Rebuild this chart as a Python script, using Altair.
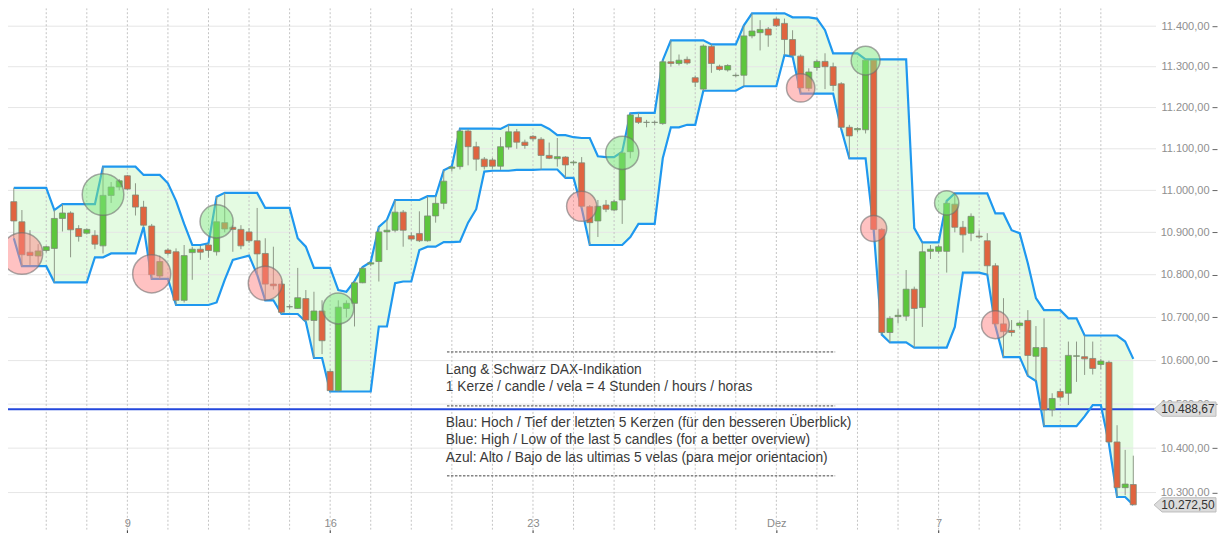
import math
import altair as alt
import pandas as pd

# ---------------- data ----------------
# one candle = 4 hours, 5 candles per trading day; index 0 = first visible candle
opens = [10973, 10925, 10853, 10844, 10857, 10862, 10933, 10946, 10909, 10898,
         10893, 10868, 10988, 11008, 11035, 10989, 10960, 10915, 10797, 10858,
         10854, 10740, 10852, 10860, 10870, 10854, 10923, 10912, 10907, 10901,
         10880, 10850, 10778, 10778, 10725, 10721, 10744, 10693, 10715, 10575,
         10531, 10721, 10733, 10781, 10825, 10831, 10901, 10905, 10948, 10892,
         10897, 10880, 10939, 10969, 11053, 11057, 11143, 11105, 11075, 11073,
         11058, 11104, 11141, 11116, 11130, 11123, 11084, 11076, 11080, 11066,
         11066, 10961, 10927, 10965, 10953, 10977, 11093, 11176, 11164, 11164,
         11161, 11312, 11308, 11318, 11273, 11245, 11350, 11301, 11292, 11278,
         11279, 11376, 11384, 11393, 11418, 11407, 11367, 11326, 11247, 11298,
         11313, 11300, 11258, 11152, 11146, 11146, 11316, 10907, 10665, 10702,
         10703, 10766, 10723, 10855, 10855, 10855, 10967, 10912, 10898, 10891,
         10880, 10821, 10685, 10670, 10681, 10693, 10610, 10630, 10487, 10529,
         10525, 10610, 10609, 10605, 10591, 10596, 10414, 10311, 10318]
highs = [11006, 10953, 10905, 10872, 10868, 10953, 10967, 10950, 10917, 10909,
         10905, 11057, 11020, 11027, 11037, 11017, 10975, 10920, 10845, 10862,
         10862, 10870, 10866, 10868, 10874, 10985, 10994, 10917, 10917, 10910,
         10958, 10886, 10866, 10785, 10730, 10816, 10764, 10760, 10740, 10580,
         10740, 10740, 10785, 10818, 10830, 10913, 10930, 10977, 10953, 10900,
         10950, 10986, 10986, 11048, 11058, 11149, 11148, 11117, 11080, 11078,
         11128, 11158, 11148, 11122, 11133, 11128, 11115, 11126, 11082, 11072,
         11080, 10965, 10977, 10977, 10978, 11093, 11186, 11187, 11170, 11168,
         11316, 11365, 11330, 11325, 11278, 11355, 11355, 11305, 11306, 11283,
         11402, 11432, 11415, 11398, 11422, 11419, 11390, 11330, 11296, 11318,
         11333, 11310, 11262, 11158, 11152, 11318, 11318, 10910, 10703, 10719,
         10811, 10772, 10876, 10870, 10870, 10975, 10993, 10927, 10945, 10905,
         10898, 10827, 10745, 10694, 10690, 10717, 10680, 10698, 10525, 10535,
         10644, 10644, 10658, 10644, 10604, 10600, 10452, 10396, 10383]
lows = [10886, 10820, 10823, 10823, 10852, 10782, 10902, 10841, 10878, 10895,
        10860, 10850, 10970, 11000, 11000, 10940, 10913, 10790, 10790, 10845,
        10729, 10735, 10788, 10835, 10840, 10845, 10900, 10854, 10860, 10875,
        10800, 10740, 10765, 10708, 10720, 10720, 10690, 10606, 10615, 10529,
        10529, 10700, 10679, 10780, 10820, 10784, 10858, 10900, 10866, 10880,
        10877, 10878, 10923, 10955, 11045, 11050, 11060, 11047, 11050, 11052,
        11049, 11098, 11100, 11100, 11118, 11050, 11075, 11057, 11030, 11060,
        10958, 10870, 10889, 10948, 10950, 10920, 11077, 11160, 11152, 11158,
        11158, 11300, 11303, 11305, 11250, 11241, 11285, 11290, 11288, 11275,
        11252, 11370, 11340, 11349, 11398, 11328, 11325, 11234, 11240, 11290,
        11245, 11240, 11148, 11077, 11140, 11137, 10905, 10660, 10642, 10686,
        10692, 10630, 10678, 10837, 10850, 10805, 10900, 10852, 10879, 10885,
        10800, 10680, 10608, 10656, 10675, 10565, 10553, 10450, 10472, 10510,
        10498, 10551, 10567, 10568, 10580, 10410, 10290, 10294, 10272.5]
closes = [10927, 10847, 10845, 10856, 10866, 10933, 10946, 10906, 10890, 10907,
          10872, 10988, 11008, 11023, 11003, 10960, 10917, 10800, 10831, 10850,
          10740, 10845, 10860, 10853, 10857, 10925, 10908, 10907, 10868, 10880,
          10849, 10778, 10774, 10712, 10725, 10746, 10694, 10715, 10646, 10531,
          10724, 10733, 10781, 10815, 10828, 10901, 10905, 10948, 10905, 10884,
          10880, 10939, 10969, 11022, 11056, 11143, 11105, 11075, 11057, 11058,
          11105, 11141, 11116, 11108, 11124, 11084, 11077, 11081, 11061, 11068,
          10962, 10923, 10962, 10955, 10973, 11090, 11182, 11164, 11164, 11164,
          11312, 11308, 11316, 11309, 11262, 11351, 11308, 11293, 11303, 11279,
          11376, 11388, 11392, 11378, 11401, 11367, 11328, 11248, 11287, 11313,
          11300, 11254, 11152, 11131, 11149, 11316, 10907, 10665, 10698, 10705,
          10766, 10721, 10854, 10860, 10866, 10969, 10912, 10894, 10938, 10889,
          10821, 10685, 10667, 10665, 10687, 10612, 10630, 10487, 10513, 10516,
          10612, 10611, 10604, 10582, 10599, 10414, 10311, 10319, 10272.5]

# signal circles (candle index, price, type, radius in px)
signal_idx = [1, 11, 17, 25, 31, 40, 70, 75, 97, 105, 106, 115, 121]
signal_price = [10850, 10990, 10802, 10926, 10780, 10721, 10962, 11090, 11248, 11315, 10909, 10970, 10683]
signal_kind = ["tief", "hoch", "tief", "hoch", "tief", "hoch", "tief", "hoch", "tief", "hoch", "tief", "hoch", "tief"]
signal_radius = [23.5, 23.5, 21.5, 18.7, 19.2, 17.5, 17.0, 18.7, 16.0, 16.3, 14.7, 13.7, 15.7]

price_ticks = [10300, 10400, 10500, 10600, 10700, 10800, 10900, 11000, 11100, 11200, 11300, 11400]
day_starts = list(range(4, 135, 5))          # first candle of every trading day
date_tick_idx = [14, 39, 64, 94, 114]
date_tick_text = ["9", "16", "23", "Dez", "7"]

level_price = [10488.67]
last_price = [10272.50]

note_lines = ["Lang & Schwarz DAX-Indikation",
              "1 Kerze / candle / vela = 4 Stunden / hours / horas",
              "Blau: Hoch / Tief der letzten 5 Kerzen (für den besseren Überblick)",
              "Blue: High / Low of the last 5 candles (for a better overview)",
              "Azul: Alto / Bajo de las ultimas 5 velas (para mejor orientacion)"]
note_price = [10578.5, 10539.5, 10457.3, 10418.7, 10378.0]
note_x = 53.26
sep_price = [10620.0, 10496.0, 10337.5]
sep_x = [53.4, 101.25]

# ---------------- frames ----------------
candles = pd.DataFrame({"i": list(range(len(opens))), "open": opens, "high": highs,
                        "low": lows, "close": closes})
candles["dir"] = ["up" if c >= o else "down" for o, c in zip(opens, closes)]

signals = pd.DataFrame({"i": signal_idx, "price": signal_price, "kind": signal_kind,
                        "area": [math.pi * r * r for r in signal_radius]})
ticks_df = pd.DataFrame({"price": price_ticks})
days_df = pd.DataFrame({"i": day_starts})
level_df = pd.DataFrame({"price": level_price})
tags_df = pd.DataFrame({"price": level_price + last_price})
notes_df = pd.DataFrame({"text": note_lines, "price": note_price, "i": [note_x] * len(note_lines)})
seps_df = pd.DataFrame({"price": sep_price, "i": [sep_x[0]] * 3, "i2": [sep_x[1]] * 3})

# ---------------- scales / axes ----------------
W, H = 1149, 522
x_scale = alt.Scale(domain=[-0.0977, 140.19], nice=False, zero=False)
y_scale = alt.Scale(type="log", domain=[10216.9, 11444.7], nice=False, zero=False)

de_fmt = "replace(replace(replace(format({v}, ',.2f'), ',', '_'), '.', ','), '_', '.')"
x_label_expr = " : ".join(f"datum.value == {v} ? '{t}'" for v, t in zip(date_tick_idx, date_tick_text)) + " : ''"

x_axis = alt.Axis(values=date_tick_idx, grid=False, domain=False, title=None,
                  tickSize=5, tickColor="#333333", labelPadding=-11, labelBaseline="middle",
                  labelColor="#8a8a8a", labelFontSize=11, labelExpr=x_label_expr,
                  labelFlush=False, labelOverlap=False)
y_axis = alt.Axis(orient="right", values=price_ticks, grid=False, domain=False, title=None,
                  tickSize=5, tickColor="#666666", offset=56, labelAlign="right",
                  labelPadding=-8, labelBaseline="middle", labelColor="#8f8f8f",
                  labelFontSize=11, labelExpr=de_fmt.format(v="datum.value"),
                  labelOverlap=False)


def X(f):
    return alt.X(f"{f}:Q", scale=x_scale, axis=x_axis)


def Y(f):
    return alt.Y(f"{f}:Q", scale=y_scale, axis=y_axis)


base = alt.Chart(candles)
banded = base.transform_window(upper="max(high)", lower="min(low)", frame=[-4, 0],
                               sort=[alt.SortField("i", order="ascending")])

band_fill = banded.mark_area(color="#e4fbe2", opacity=1, clip=True).encode(
    x=X("i"), y=Y("upper"), y2="lower:Q")
hgrid = alt.Chart(ticks_df).mark_rule(color="#e6e6e6", strokeWidth=1, clip=True).encode(y=Y("price"))
vgrid = alt.Chart(days_df).mark_rule(color="#c4c4c4", strokeWidth=1, strokeDash=[2, 2], clip=True).encode(x=X("i"))
level = alt.Chart(level_df).mark_rule(color="#2347dc", strokeWidth=2, clip=True).encode(y=Y("price"))
upper_line = banded.mark_line(color="#1f98ef", strokeWidth=2.2, clip=True).encode(x=X("i"), y=Y("upper"))
lower_line = banded.mark_line(color="#1f98ef", strokeWidth=2.2, clip=True).encode(x=X("i"), y=Y("lower"))
wicks = base.mark_rule(color="#8e9988", strokeWidth=1, clip=True).encode(x=X("i"), y=Y("low"), y2="high:Q")
bodies = base.mark_bar(size=6, stroke="#7f8a78", strokeWidth=0.8, clip=True).encode(
    x=X("i"), y=Y("open"), y2="close:Q",
    color=alt.Color("dir:N", scale=alt.Scale(domain=["up", "down"], range=["#5cc63c", "#e0643f"]), legend=None))
circles = alt.Chart(signals).mark_circle(stroke="#6f6f6f", strokeWidth=1.5, strokeOpacity=0.6,
                                         fillOpacity=0.5, opacity=1, clip=True).encode(
    x=X("i"), y=Y("price"),
    size=alt.Size("area:Q", scale=None, legend=None),
    fill=alt.Fill("kind:N", scale=alt.Scale(domain=["hoch", "tief"], range=["#7fe87f", "#ff8585"]), legend=None))
seps = alt.Chart(seps_df).mark_rule(color="#444444", strokeWidth=1, strokeDash=[2.5, 1.5], clip=True).encode(
    x=X("i"), x2="i2:Q", y=Y("price"))
notes = alt.Chart(notes_df).mark_text(align="left", baseline="middle", fontSize=13.8, color="#3a3a3a",
                                      font="Liberation Sans", clip=True).encode(
    x=X("i"), y=Y("price"), text="text:N")
tag_shape = alt.Chart(tags_df).mark_point(
    shape="M -1 0 L -0.74 -0.23 L 1 -0.23 L 1 0.23 L -0.74 0.23 Z",
    size=3844, filled=True, fill="#dcdcdc", stroke="#bdbdbd", strokeWidth=1, opacity=1).encode(
    x=alt.value(W + 29), y=Y("price"))
tag_text = alt.Chart(tags_df).transform_calculate(
    label=de_fmt.format(v="datum.price")).mark_text(fontSize=12, color="#333333", baseline="middle",
                                                  align="center").encode(
    x=alt.value(W + 32), y=Y("price"), text="label:N")

chart = alt.layer(band_fill, hgrid, vgrid, level, upper_line, lower_line, wicks, bodies, circles,
                  seps, notes, tag_shape, tag_text).properties(
    width=W, height=H, padding=0, background="white").configure(
    font="Liberation Sans").configure_view(stroke=None)

chart.save("out.html", embed_options={"renderer": "svg", "actions": False})
